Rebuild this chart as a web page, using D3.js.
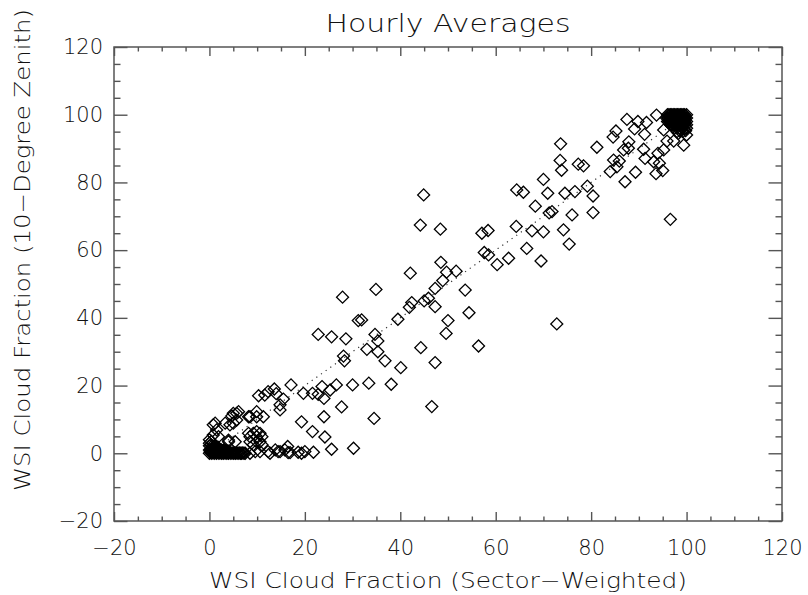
<!DOCTYPE html>
<html>
<head>
<meta charset="utf-8">
<script src="https://cdn.jsdelivr.net/npm/d3@7"></script>
<style>
  body { margin: 0; background: #fff; }
  svg { display: block; }
  text { font-family: "DejaVu Sans", sans-serif; font-weight: 200; fill: #111; }
</style>
</head>
<body>
<div id="chart"></div>
<script>
// axis ticks (IDL style, labelled every 20)
const xTicks = [-20, 0, 20, 40, 60, 80, 100, 120];
const yTicks = [-20, 0, 20, 40, 60, 80, 100, 120];

const title = 'Hourly Averages';
const xTitle = 'WSI Cloud Fraction (Sector\u2212Weighted)';
const yTitle = 'WSI Cloud Fraction (10\u2212Degree Zenith)';

// 1:1 reference line
const diagonal = [0, 100];

// [sector-weighted, 10-degree zenith] hourly pairs
const clearBlob = [
  [0, 0], [0.25, 0.2], [0.5, 0], [0.75, 0.3], [1.0, 0], [1.25, 0.2], [1.5, 0], [1.75, 0.3],
  [2.0, 0], [2.25, 0.2], [2.5, 0], [2.75, 0.1], [3.0, 0], [3.25, 0.2], [3.5, 0], [3.75, 0.1],
  [4.0, 0], [4.25, 0.2], [4.5, 0], [4.75, 0.1], [5.0, 0], [5.25, 0.1], [5.5, 0], [5.75, 0.1],
  [6.0, 0], [6.25, 0.1], [6.5, 0], [6.75, 0], [7.0, 0.1], [7.25, 0], [7.5, 0],
  [0, 1.0], [0.25, 1.1], [0.5, 1.0], [0.75, 1.2], [1.0, 1.0], [1.25, 1.1], [1.5, 1.0],
  [1.75, 1.2], [2.0, 1.0], [2.25, 0.9], [2.5, 1.0], [2.75, 0.8], [3.0, 0.9], [3.25, 0.7],
  [3.5, 0.8], [3.75, 0.6], [4.0, 0.6],
  [0, 2.2], [0.3, 2.4], [0.6, 2.2], [0.9, 2.0], [1.2, 2.1], [1.5, 1.9], [1.8, 1.8],
  [0, 3], [0.4, 3.5], [0, 4], [0.2, 0.6], [0.6, 0.6]
];

const nearClear = [
  [0.8, 8.4], [1.2, 8.9], [1.5, 6.9], [0.8, 5.4], [1.9, 4.9], [4.0, 3.9], [4.0, 3.4],
  [5.4, 3.4], [4.3, 8.4], [3.3, 8.9], [5.0, 8.9], [5.7, 9.8], [5.7, 11.8], [5.0, 11.8],
  [4.7, 11.0], [6.1, 12.3], [8.2, 10.8], [8.5, 10.8], [9.9, 10.8], [11.3, 10.8], [9.9, 12.3],
  [8.2, 5.9], [9.2, 5.9], [9.9, 6.4], [8.5, 4.9], [9.9, 4.9], [10.6, 5.9], [11.0, 4.9],
  [9.9, 3.4], [8.5, 3.4], [9.2, 2.5], [11.0, 2.5], [10.6, 3.4]
];

const zeroZenith = [
  [8.5, 0], [9.6, 0.5], [10.6, 0.5], [12.3, 0.5], [12.7, 0], [13.8, 1.0], [14.4, 0.5],
  [14.8, 0.5], [15.8, 1.0], [16.5, 0.2], [16.9, 0.2], [16.4, 2.0], [18.6, 0.3], [19.3, 0],
  [20.0, 0.5], [21.8, 0.3], [25.6, 1.2], [30.2, 1.5]
];

const lowBand = [
  [19.3, 9.3], [21.6, 6.4], [24.2, 4.8], [24.0, 10.8], [27.7, 13.7], [24.0, 16.2],
  [21.6, 17.7], [19.7, 17.7], [22.8, 17.4], [23.6, 19.7], [25.3, 18.7], [26.6, 20.2],
  [17.1, 20.2], [30.0, 20.2], [33.4, 20.7], [38.1, 20.4], [34.5, 10.3], [46.6, 13.8],
  [10.3, 17.0], [11.6, 17.2], [12.3, 18.2], [13.6, 19.0], [14.0, 17.6], [15.5, 16.0],
  [14.8, 14.3], [14.8, 12.8]
];

const midBand = [
  [22.8, 35.1], [25.6, 34.4], [28.6, 33.8], [27.9, 46.1], [31.2, 39.2], [31.9, 39.4],
  [34.7, 35.1], [35.3, 33.2], [33.0, 30.7], [35.3, 30.0], [34.9, 48.4], [36.8, 27.3],
  [28.1, 28.7], [28.3, 27.3], [39.5, 39.6], [40.1, 25.3], [41.9, 43.1], [42.4, 44.5],
  [45.0, 45.0], [45.9, 45.8], [47.3, 43.3], [47.3, 48.7], [48.9, 51.0], [42.1, 53.2],
  [48.5, 56.4], [49.7, 53.5], [51.7, 53.8], [53.6, 48.2], [54.4, 41.5], [50.0, 39.2],
  [49.6, 35.4], [44.3, 31.2], [47.3, 26.8], [56.4, 31.7], [44.9, 76.3], [44.2, 67.4],
  [48.4, 66.2], [57.1, 65.0], [58.4, 65.8], [57.6, 59.3], [58.5, 58.6], [60.3, 55.7],
  [62.7, 57.6], [64.3, 67.0], [67.6, 65.7], [70.0, 65.4], [66.5, 60.5], [69.5, 56.8],
  [72.8, 38.2], [74.2, 66.0], [75.4, 61.8]
];

const highBand = [
  [64.4, 77.8], [65.8, 77.1], [70.0, 80.9], [70.9, 76.8], [68.3, 73.0], [71.2, 71.0],
  [71.8, 71.4], [73.6, 91.4], [73.5, 86.5], [73.8, 83.6], [81.2, 90.4], [77.3, 85.4],
  [78.4, 84.9], [84.0, 83.2], [84.7, 86.6], [85.9, 86.3], [84.6, 93.4], [85.2, 95.2],
  [87.9, 92.0], [87.5, 98.6], [89.8, 98.0], [89.1, 95.8], [91.2, 94.2], [91.6, 97.7],
  [93.7, 99.9], [91.0, 89.8], [89.3, 83.0], [87.8, 90.1], [87.1, 80.2], [94.0, 88.6],
  [94.3, 85.7], [93.6, 82.6], [95.0, 83.5], [93.1, 86.1], [91.3, 87.1], [86.8, 89.6],
  [85.4, 84.6], [96.6, 69.1], [80.4, 76.0], [76.6, 77.3], [74.5, 76.8], [79.2, 78.9],
  [76.0, 70.4], [80.4, 71.1], [95.9, 92.2], [97.3, 92.2], [98.3, 94.5], [99.4, 91.0],
  [100, 94.0], [95.2, 95.5], [95.2, 89.6]
];

const overcastBlob = [
  [96.0, 100], [96.3, 100], [96.6, 100], [96.9, 100], [97.2, 100], [97.5, 100], [97.8, 100],
  [98.1, 100], [98.4, 100], [98.7, 100], [99.0, 100], [99.3, 100], [99.6, 100], [100, 100],
  [95.8, 99], [96.1, 99], [96.4, 99], [96.7, 99], [97.0, 99], [97.3, 99], [97.6, 99],
  [97.9, 99], [98.2, 99], [98.5, 99], [98.8, 99], [99.1, 99], [99.4, 99], [99.7, 99], [100, 99],
  [96.0, 98], [96.3, 98], [96.6, 98], [96.9, 98], [97.2, 98], [97.5, 98], [97.8, 98],
  [98.1, 98], [98.4, 98], [98.7, 98], [99.0, 98], [99.3, 98], [99.6, 98], [100, 98],
  [96.6, 97], [96.9, 97], [97.2, 97], [97.5, 97], [97.8, 97], [98.1, 97], [98.4, 97],
  [98.7, 97], [99.0, 97], [99.3, 97], [99.6, 97], [100, 97],
  [97.5, 96], [98.0, 96.2], [98.5, 96], [99.0, 96.1], [99.5, 95.8], [100, 96],
  [98.0, 95], [98.6, 95.2], [99.2, 95], [99.8, 95.3]
];

const width = 808;
const height = 595;
const plot = { left: 114, right: 782, top: 47, bottom: 521 };

const svg = d3.select('#chart')
  .append('svg')
  .attr('width', width)
  .attr('height', height);

svg.append('rect').attr('width', width).attr('height', height).attr('fill', '#fff');

const x = d3.scaleLinear().domain([-20, 120]).range([plot.left, plot.right]);
const y = d3.scaleLinear().domain([-20, 120]).range([plot.bottom, plot.top]);

const xMinor = d3.range(-20, 121, 5).filter(v => v % 20 !== 0);
const yMinor = d3.range(-20, 121, 5).filter(v => v % 20 !== 0);
const fmt = d => d < 0 ? '\u2212' + Math.abs(d) : String(d);

const axisColor = '#555';

function styleAxis(g) {
  g.attr('font-size', null).attr('font-family', null);
  g.select('.domain').remove();
  g.selectAll('.tick line').attr('stroke', axisColor).attr('stroke-width', 1.4);
  g.selectAll('.tick text').style('font-size', '21px');
}

// bottom
svg.append('g')
  .attr('transform', `translate(0,${plot.bottom})`)
  .call(d3.axisBottom(x).tickValues(xTicks).tickSizeInner(-9).tickSizeOuter(0).tickPadding(19).tickFormat(fmt))
  .call(styleAxis)
  .selectAll('.tick text').attr('dy', '0.73em');
svg.append('g')
  .attr('transform', `translate(0,${plot.bottom})`)
  .call(d3.axisBottom(x).tickValues(xMinor).tickSizeInner(-4.5).tickSizeOuter(0).tickFormat(''))
  .call(styleAxis);

// top
svg.append('g')
  .attr('transform', `translate(0,${plot.top})`)
  .call(d3.axisTop(x).tickValues(xTicks).tickSizeInner(-9).tickSizeOuter(0).tickFormat(''))
  .call(styleAxis);
svg.append('g')
  .attr('transform', `translate(0,${plot.top})`)
  .call(d3.axisTop(x).tickValues(xMinor).tickSizeInner(-4.5).tickSizeOuter(0).tickFormat(''))
  .call(styleAxis);

// left
svg.append('g')
  .attr('transform', `translate(${plot.left},0)`)
  .call(d3.axisLeft(y).tickValues(yTicks).tickSizeInner(-13.5).tickSizeOuter(0).tickPadding(11).tickFormat(fmt))
  .call(styleAxis);
svg.append('g')
  .attr('transform', `translate(${plot.left},0)`)
  .call(d3.axisLeft(y).tickValues(yMinor).tickSizeInner(-6.5).tickSizeOuter(0).tickFormat(''))
  .call(styleAxis);

// right
svg.append('g')
  .attr('transform', `translate(${plot.right},0)`)
  .call(d3.axisRight(y).tickValues(yTicks).tickSizeInner(-13.5).tickSizeOuter(0).tickFormat(''))
  .call(styleAxis);
svg.append('g')
  .attr('transform', `translate(${plot.right},0)`)
  .call(d3.axisRight(y).tickValues(yMinor).tickSizeInner(-6.5).tickSizeOuter(0).tickFormat(''))
  .call(styleAxis);

// frame
svg.append('rect')
  .attr('x', plot.left)
  .attr('y', plot.top)
  .attr('width', plot.right - plot.left)
  .attr('height', plot.bottom - plot.top)
  .attr('fill', 'none')
  .attr('stroke', axisColor)
  .attr('stroke-width', 1.5);

// dotted 1:1 line
svg.append('line')
  .attr('x1', x(diagonal[0]))
  .attr('y1', y(diagonal[0]))
  .attr('x2', x(diagonal[1]))
  .attr('y2', y(diagonal[1]))
  .attr('stroke', '#333')
  .attr('stroke-width', 1.2)
  .attr('stroke-dasharray', '1.2,4.5');

// diamonds
const points = [].concat(clearBlob, nearClear, zeroZenith, lowBand, midBand, highBand, overcastBlob);
const diamond = d3.symbol().type(d3.symbolSquare).size(72);

svg.append('g')
  .selectAll('path')
  .data(points)
  .enter()
  .append('path')
  .attr('d', diamond)
  .attr('transform', d => `translate(${x(d[0])},${y(d[1])}) rotate(45)`)
  .attr('fill', 'none')
  .attr('stroke', '#000')
  .attr('stroke-width', 1.3);

// titles
svg.append('text')
  .attr('x', (plot.left + plot.right) / 2)
  .attr('y', 32)
  .attr('text-anchor', 'middle')
  .attr('textLength', 245)
  .attr('lengthAdjust', 'spacingAndGlyphs')
  .style('font-size', '24px')
  .text(title);

svg.append('text')
  .attr('x', (plot.left + plot.right) / 2)
  .attr('y', 588)
  .attr('text-anchor', 'middle')
  .attr('textLength', 478)
  .attr('lengthAdjust', 'spacingAndGlyphs')
  .style('font-size', '22px')
  .text(xTitle);

svg.append('text')
  .attr('transform', 'translate(30,250) rotate(-90)')
  .attr('text-anchor', 'middle')
  .attr('textLength', 482)
  .attr('lengthAdjust', 'spacingAndGlyphs')
  .style('font-size', '22px')
  .text(yTitle);
</script>
</body>
</html>
